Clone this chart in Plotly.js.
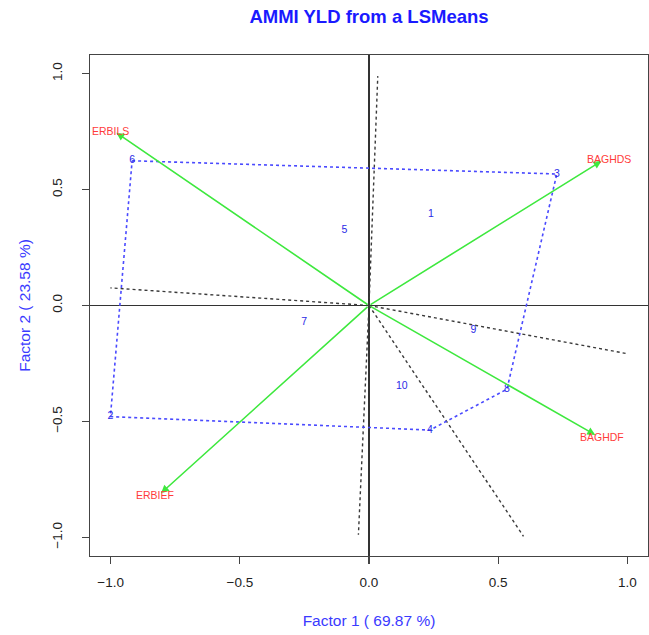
<!DOCTYPE html>
<html>
<head>
<meta charset="utf-8">
<script src="https://cdn.plot.ly/plotly-3.0.1.min.js"></script>
<style>html,body{margin:0;padding:0;background:#fff;}#chart{width:649px;height:635px;}</style>
</head>
<body>
<div id="chart"></div>
<script>
// Genotypes (blue numbers)
const genoLabels = ["1","2","3","4","5","6","7","8","9","10"];
const genoX = [0.240, -1.001, 0.727, 0.236, -0.095, -0.917, -0.251, 0.534, 0.404, 0.127];
const genoY = [0.393, -0.479, 0.567, -0.537, 0.322, 0.624, -0.072, -0.361, -0.106, -0.347];

// Environments (red labels, green vectors)
const envLabels = ["ERBILS", "BAGHDS", "ERBIEF", "BAGHDF"];
const envX = [-0.978, 0.900, -0.805, 0.876];
const envY = [0.745, 0.623, -0.809, -0.558];

// Convex hull order of genotypes (by label)
const hullOrder = ["6", "3", "8", "4", "2", "6"];

// Sector (which-won-where) line end points
const sectorX = [0.034, 0.996, 0.598, -0.041, -1.001];
const sectorY = [0.989, -0.207, -0.995, -0.988, 0.076];

const pctF1 = "69.87", pctF2 = "23.58";
const tickVals = [-1.0, -0.5, 0.0, 0.5, 1.0];
const tickText = ["\u22121.0", "\u22120.5", "0.0", "0.5", "1.0"];

const hullX = hullOrder.map(l => genoX[genoLabels.indexOf(l)]);
const hullY = hullOrder.map(l => genoY[genoLabels.indexOf(l)]);

const secX = [], secY = [];
sectorX.forEach((x, i) => { secX.push(0, x, null); secY.push(0, sectorY[i], null); });

const FONT = "Liberation Sans, Arial, sans-serif";

const traces = [
  { x: secX, y: secY, mode: "lines", line: { color: "#3a3a3a", width: 1.4, dash: "3px,3px" }, hoverinfo: "skip", showlegend: false },
  { x: hullX, y: hullY, mode: "lines", line: { color: "#4a4aff", width: 1.6, dash: "3px,3px" }, hoverinfo: "skip", showlegend: false },
  { x: genoX, y: genoY, text: genoLabels, mode: "text", textposition: "middle center",
    textfont: { family: FONT, size: 10.5, color: "#2a2ae6" }, showlegend: false }
];

const annotations = [];
envX.forEach((x, i) => {
  annotations.push({ x: x, y: envY[i], xref: "x", yref: "y", ax: 0, ay: 0, axref: "x", ayref: "y",
    text: "", showarrow: true, arrowhead: 2, arrowsize: 1, arrowwidth: 1.6, arrowcolor: "#3ee83e", standoff: 0 });
  annotations.push({ x: x, y: envY[i], xref: "x", yref: "y", text: envLabels[i], showarrow: false,
    xshift: x < 0 ? -6 : 7, yshift: envY[i] < 0 ? -2 : 2,
    font: { family: FONT, size: 10.5, color: "#ff3b3b" } });
});

const axisCommon = {
  range: [-1.08, 1.08], tickvals: tickVals, ticktext: tickText,
  showgrid: false, zeroline: true, zerolinecolor: "#333", zerolinewidth: 1.3,
  showline: true, mirror: true, linecolor: "#444", linewidth: 1.3,
  ticks: "outside", ticklen: 7, tickwidth: 1.2, tickcolor: "#444",
  tickfont: { family: FONT, size: 13.5, color: "#222" }
};

const layout = {
  width: 649, height: 635,
  margin: { l: 90, r: 1, t: 55, b: 79 },
  paper_bgcolor: "#fff", plot_bgcolor: "#fff",
  title: { text: "<b>AMMI YLD from a LSMeans</b>", x: 0.5, xref: "paper", y: 1 - 17 / 635, yref: "container", yanchor: "middle",
    font: { family: FONT, size: 18.5, color: "#1a1aff" } },
  xaxis: Object.assign({}, axisCommon, {
    ticklabelstandoff: 6,
    title: { text: "Factor 1 ( " + pctF1 + " %)", standoff: 26, font: { family: FONT, size: 15.5, color: "#3a3aff" } }
  }),
  yaxis: Object.assign({}, axisCommon, {
    tickangle: -90, ticklabelstandoff: 14,
    title: { text: "Factor 2 ( " + pctF2 + " %)", standoff: 16, font: { family: FONT, size: 15.5, color: "#3a3aff" } }
  }),
  annotations: annotations,
  showlegend: false
};

Plotly.newPlot("chart", traces, layout, { displayModeBar: false, staticPlot: true });
</script>
</body>
</html>
